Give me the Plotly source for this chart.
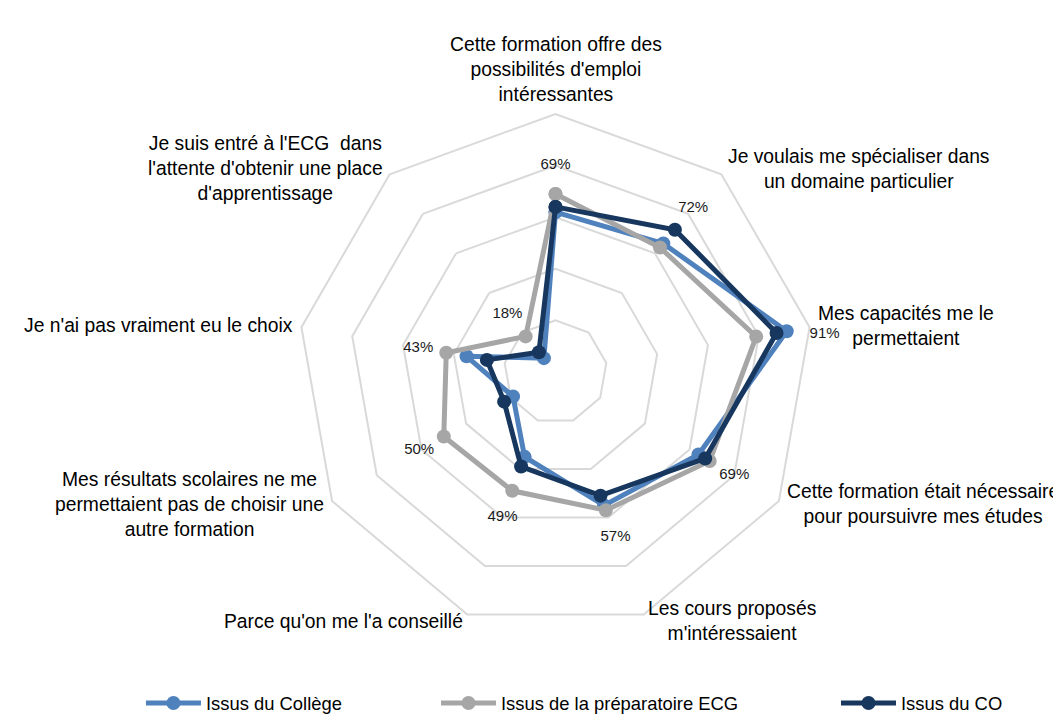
import math
import plotly.graph_objects as go

categories = [
    "Cette formation offre des<br>possibilités d'emploi<br>intéressantes",
    "Je voulais me spécialiser dans<br>un domaine particulier",
    "Mes capacités me le<br>permettaient",
    "Cette formation était nécessaire<br>pour poursuivre mes études",
    "Les cours proposés<br>m'intéressaient",
    "Parce qu'on me l'a conseillé",
    "Mes résultats scolaires ne me<br>permettaient pas de choisir une<br>autre formation",
    "Je n'ai pas vraiment eu le choix",
    "Je suis entré à l'ECG  dans<br>l'attente d'obtenir une place<br>d'apprentissage",
]
college = [62, 65, 91, 64, 55, 35, 19, 35, 7]
prepa = [69, 63, 79, 69, 57, 49, 50, 43, 18]
co = [64, 72, 87, 67, 51, 39, 23, 27, 10]

series = [
    ("Issus du Collège", college, "#4F81BD", "legend"),
    ("Issus de la préparatoire ECG", prepa, "#A6A6A6", "legend2"),
    ("Issus du CO", co, "#17375E", "legend3"),
]

FONT = "Liberation Sans, Arial, sans-serif"

fig = go.Figure()
for name, vals, color, leg in series:
    fig.add_trace(go.Scatterpolar(
        r=vals + vals[:1],
        theta=categories + categories[:1],
        mode="lines+markers",
        name=name,
        line=dict(color=color, width=5),
        marker=dict(color=color, size=14),
        legend=leg,
        cliponaxis=False,
    ))

# data labels: the highest value on each axis, shown just outside the point
maxvals = [max(a, b, c) for a, b, c in zip(college, prepa, co)]
label_r = [min(v + 11, 100) for v in maxvals]
label_pos = ["bottom right" if v + 11 > 100 else "middle center" for v in maxvals]
fig.add_trace(go.Scatterpolar(
    r=label_r,
    theta=categories,
    mode="text",
    text=[f"{v}%" for v in maxvals],
    textposition=label_pos,
    textfont=dict(family=FONT, size=15, color="#1a1a1a"),
    showlegend=False,
    hoverinfo="skip",
    cliponaxis=False,
))

W, H = 1061, 717
cx, cy, R = 547.5, 364, 258

# category labels placed just outside each vertex, centred line by line
annotations = []
n = len(categories)
pad = 7
for i, cat in enumerate(categories):
    a = math.radians(360 * i / n)
    s, c = math.sin(a), math.cos(a)
    px = cx + (R + pad) * s
    py = cy - (R + pad) * c
    xa = "left" if s > 0.2 else ("right" if s < -0.2 else "center")
    ya = "bottom" if c > 0.9 else "middle"
    annotations.append(dict(
        text=cat, x=px / W, y=1 - py / H, xref="paper", yref="paper",
        xanchor=xa, yanchor=ya, align="center", showarrow=False,
        font=dict(family=FONT, size=19.3, color="#000000"),
    ))

legend_style = dict(orientation="h", y=0.0307, xanchor="left", yanchor="middle",
                    itemwidth=55, font=dict(family=FONT, size=18.4, color="#000000"))

fig.update_layout(
    width=W, height=H,
    margin=dict(l=0, r=0, t=0, b=0, autoexpand=False),
    paper_bgcolor="white",
    font=dict(family=FONT, color="#000000"),
    annotations=annotations,
    polar=dict(
        domain=dict(x=[(cx - R) / W, (cx + R) / W],
                    y=[(H - cy - R) / H, (H - cy + R) / H]),
        bgcolor="white",
        gridshape="linear",
        angularaxis=dict(
            type="category",
            rotation=90,
            direction="clockwise",
            showgrid=False,
            showline=True,
            linecolor="#D9D9D9",
            linewidth=2,
            ticks="",
            showticklabels=False,
        ),
        radialaxis=dict(
            range=[0, 100],
            dtick=20,
            showticklabels=False,
            ticks="",
            showline=False,
            gridcolor="#D9D9D9",
            gridwidth=2,
        ),
    ),
    legend=dict(x=0.1253, **legend_style),
    legend2=dict(x=0.4034, **legend_style),
    legend3=dict(x=0.7804, **legend_style),
)

fig.write_html("out.html")
